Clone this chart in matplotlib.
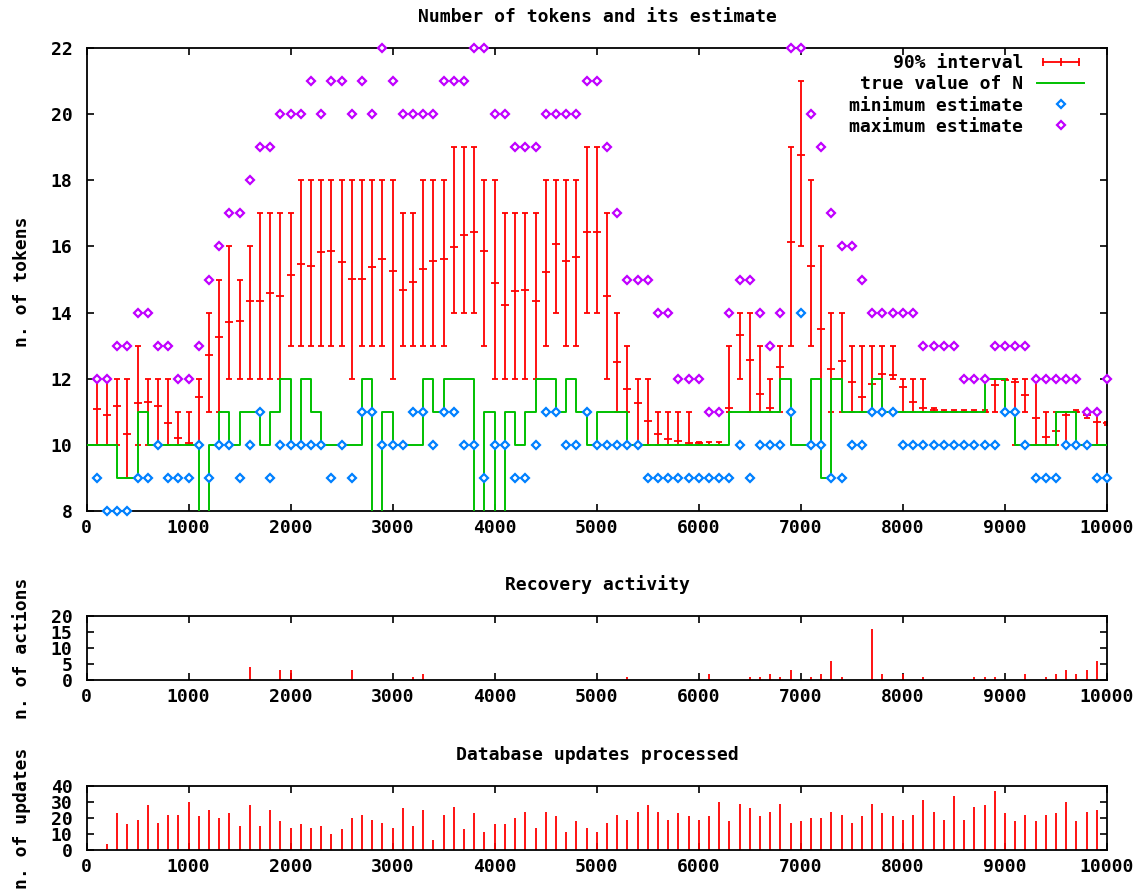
import matplotlib
matplotlib.use('Agg')
import matplotlib.pyplot as plt
from matplotlib.lines import Line2D
from matplotlib.legend_handler import HandlerLine2D

plt.rcParams['font.family'] = ['DejaVu Sans Mono']
plt.rcParams['font.weight'] = 'bold'
plt.rcParams['font.size'] = 13

RED = '#ff0000'
GREEN = '#00c000'
BLUE = '#0080ff'
MAGENTA = '#c000ff'

# sample times of the estimator
t = list(range(100, 10001, 100))

iv_lo = [10, 10, 10, 9, 10, 10, 10, 10, 10, 10,
         10, 11, 11, 12, 12, 12, 12, 12, 12, 13,
         13, 13, 13, 13, 13, 12, 13, 13, 13, 12,
         13, 13, 13, 13, 13, 14, 14, 14, 13, 12,
         12, 12, 12, 12, 13, 14, 13, 13, 14, 14,
         12, 11, 11, 10, 10, 10, 10, 10, 10, 10,
         10, 10, 11, 12, 11, 11, 11, 11, 13, 16,
         13, 10, 11, 11, 11, 11, 11, 11, 12, 11,
         11, 11, 11, 11, 11, 11, 11, 11, 11, 11,
         10, 11, 10, 10, 10, 10, 11, 10.8, 10, 10.6]
iv_med = [11.07, 10.9, 11.16, 10.32, 11.26, 11.31, 11.16, 10.67, 10.22, 10.07,
          11.45, 12.73, 13.27, 13.71, 13.76, 14.35, 14.35, 14.6, 14.5, 15.13,
          15.47, 15.42, 15.82, 15.87, 15.52, 15.03, 15.03, 15.37, 15.61, 15.27,
          14.69, 14.93, 15.32, 15.57, 15.61, 15.97, 16.36, 16.45, 15.87, 14.88,
          14.24, 14.64, 14.69, 14.35, 15.22, 16.06, 15.57, 15.67, 16.45, 16.45,
          14.49, 12.52, 11.7, 11.26, 10.72, 10.32, 10.17, 10.12, 10.07, 10.07,
          10.0, 10.0, 11.1, 13.32, 12.58, 11.55, 11.1, 12.34, 16.12, 18.76,
          15.42, 13.51, 12.29, 12.53, 11.9, 11.45, 11.85, 12.15, 12.1, 11.75,
          11.31, 11.1, 11.05, 11.0, 11.0, 11.0, 11.0, 11.0, 11.8, 11.95,
          11.9, 11.5, 10.8, 10.25, 10.41, 10.9, 11.0, 10.9, 10.7, 10.65]
iv_hi = [12, 12, 12, 12, 13, 12, 12, 12, 11, 11,
         12, 14, 15, 16, 15, 16, 17, 17, 17, 17,
         18, 18, 18, 18, 18, 18, 18, 18, 18, 18,
         17, 17, 18, 18, 18, 19, 19, 19, 18, 18,
         17, 17, 17, 17, 18, 18, 18, 18, 19, 19,
         17, 14, 13, 12, 12, 11, 11, 11, 11, 10.1,
         10.1, 10.1, 13, 14, 14, 13, 12, 13, 19, 21,
         18, 16, 14, 14, 13, 13, 13, 13, 13, 12,
         12, 12, 11.1, 11.05, 11.05, 11.05, 11.05, 11.05, 12, 12,
         12, 12, 12, 11, 11, 11, 11.05, 11, 11, 10.7]
est_min = [9, 8, 8, 8, 9, 9, 10, 9, 9, 9,
           10, 9, 10, 10, 9, 10, 11, 9, 10, 10,
           10, 10, 10, 9, 10, 9, 11, 11, 10, 10,
           10, 11, 11, 10, 11, 11, 10, 10, 9, 10,
           10, 9, 9, 10, 11, 11, 10, 10, 11, 10,
           10, 10, 10, 10, 9, 9, 9, 9, 9, 9,
           9, 9, 9, 10, 9, 10, 10, 10, 11, 14,
           10, 10, 9, 9, 10, 10, 11, 11, 11, 10,
           10, 10, 10, 10, 10, 10, 10, 10, 10, 11,
           11, 10, 9, 9, 9, 10, 10, 10, 9, 9]
est_max = [12, 12, 13, 13, 14, 14, 13, 13, 12, 12,
           13, 15, 16, 17, 17, 18, 19, 19, 20, 20,
           20, 21, 20, 21, 21, 20, 21, 20, 22, 21,
           20, 20, 20, 20, 21, 21, 21, 22, 22, 20,
           20, 19, 19, 19, 20, 20, 20, 20, 21, 21,
           19, 17, 15, 15, 15, 14, 14, 12, 12, 12,
           11, 11, 14, 15, 15, 14, 13, 14, 22, 22,
           20, 19, 17, 16, 16, 15, 14, 14, 14, 14,
           14, 13, 13, 13, 13, 12, 12, 12, 13, 13,
           13, 13, 12, 12, 12, 12, 12, 11, 11, 12]

# true N (step), starting at t=0
n_t = [0] + t
n_true = [10,
          10, 10, 9, 9, 11, 10, 10, 10, 10, 10,
          7, 10, 11, 10, 11, 11, 10, 11, 12, 10,
          12, 11, 10, 10, 10, 10, 12, 7, 11, 10,
          10, 10, 12, 11, 12, 12, 12, 7, 11, 7,
          11, 10, 11, 12, 12, 11, 12, 11, 10, 11,
          11, 11, 10, 10, 10, 10, 10, 10, 10, 10,
          10, 10, 11, 11, 11, 11, 11, 12, 10, 10,
          12, 9, 12, 11, 11, 11, 12, 11, 11, 11,
          11, 11, 11, 11, 11, 11, 11, 12, 12, 11,
          10, 10, 10, 10, 11, 11, 10, 10, 10, 10]

# recovery actions
rec_t = [1600, 1900, 2000, 2600, 3200, 3300, 5300, 6100, 6500, 6600, 6700, 6800,
         6900, 7100, 7200, 7300, 7400, 7700, 7800, 8000, 8200, 8700, 8800, 8900,
         9200, 9400, 9500, 9600, 9700, 9800, 9900]
rec_n = [4, 3, 3, 3, 1, 2, 1, 2, 1, 1, 2, 1,
         3, 1, 2, 6, 1, 16, 2, 2, 1, 1, 1, 1,
         2, 1, 2, 3, 2, 3, 6]

# database updates
upd_t = list(range(200, 10000, 100))
upd_n = [4, 23, 16, 19, 28, 17, 22, 22, 30,
         21, 25, 20, 23, 15, 28, 15, 25, 18, 14,
         16, 14, 15, 10, 13, 20, 22, 19, 17, 14,
         26, 15, 25, 6, 22, 27, 13, 23, 11, 16,
         16, 20, 24, 14, 24, 21, 11, 18, 14, 11,
         17, 22, 19, 24, 28, 24, 19, 23, 21, 19,
         21, 30, 18, 29, 26, 21, 24, 29, 17, 18,
         20, 20, 24, 22, 17, 21, 29, 23, 21, 19,
         22, 31, 24, 19, 34, 19, 27, 28, 37, 23,
         18, 22, 18, 22, 23, 30, 18, 24, 25]

W, H = 1142, 894
fig = plt.figure(figsize=(W / 100, H / 100), dpi=100)


def box(l, top, r, b):
    return [l / W, 1 - b / H, (r - l) / W, (b - top) / H]


ax1 = fig.add_axes(box(86.5, 48, 1107, 511))
ax2 = fig.add_axes(box(86.5, 616, 1107, 680))
ax3 = fig.add_axes(box(86.5, 786, 1107, 850))

# main panel
yerr = [[m - lo for m, lo in zip(iv_med, iv_lo)],
        [hi - m for m, hi in zip(iv_med, iv_hi)]]
ax1.errorbar(t, iv_med, yerr=yerr, fmt='_', color=RED, ms=6, mew=1.3,
             elinewidth=1.3, capsize=2.2, capthick=1.3, zorder=2)
ax1.step(n_t, n_true, where='post', color=GREEN, lw=1.4, zorder=3)
ax1.plot(t, est_min, ls='none', marker='D', ms=4.5, mfc='white', mec=BLUE,
         mew=1.6, clip_on=False, zorder=4)
ax1.plot(t, est_max, ls='none', marker='D', ms=4.5, mfc='white', mec=MAGENTA,
         mew=1.6, clip_on=False, zorder=5)
ax1.set_xlim(0, 10000)
ax1.set_ylim(8, 22)
ax1.set_yticks(range(8, 23, 2))

h_err = Line2D([], [], color=RED, lw=1.3, marker='|', ms=6, mew=1.3)
h_n = Line2D([], [], color=GREEN, lw=1.4)
h_min = Line2D([], [], ls='none', marker='D', ms=4.5, mfc='white', mec=BLUE, mew=1.6)
h_max = Line2D([], [], ls='none', marker='D', ms=4.5, mfc='white', mec=MAGENTA, mew=1.6)
ax1.legend([h_err, h_n, h_min, h_max],
           ['90% interval', 'true value of N', 'minimum estimate', 'maximum estimate'],
           loc='upper right', bbox_to_anchor=(0.9775, 0.987), frameon=False,
           markerfirst=False, borderaxespad=0, borderpad=0, labelspacing=0.18,
           handlelength=2.6, handletextpad=0.78,
           handler_map={h_err: HandlerLine2D(numpoints=3),
                        h_min: HandlerLine2D(numpoints=1),
                        h_max: HandlerLine2D(numpoints=1)})

# recovery activity
ax2.vlines(rec_t, 0, rec_n, color=RED, lw=1.3)
ax2.set_xlim(0, 10000)
ax2.set_ylim(0, 20)
ax2.set_yticks(range(0, 21, 5))

# database updates
ax3.vlines(upd_t, 0, upd_n, color=RED, lw=1.3)
ax3.set_xlim(0, 10000)
ax3.set_ylim(0, 40)
ax3.set_yticks(range(0, 41, 10))

for ax in (ax1, ax2, ax3):
    ax.set_xticks(range(0, 10001, 1000))
    ax.tick_params(direction='in', length=5, width=1.2, top=True, right=True,
                   labelsize=13)
    ax.tick_params(axis='x', pad=6)
    ax.tick_params(axis='y', pad=10)
    for s in ax.spines.values():
        s.set_linewidth(1.3)

fig.text(597 / W, 1 - 17 / H, 'Number of tokens and its estimate', ha='center', va='center')
fig.text(597 / W, 1 - 585 / H, 'Recovery activity', ha='center', va='center')
fig.text(597 / W, 1 - 755 / H, 'Database updates processed', ha='center', va='center')
fig.text(22 / W, 1 - 282 / H, 'n. of tokens', rotation=90, ha='center', va='center')
fig.text(22 / W, 1 - 648 / H, 'n. of actions', rotation=90, ha='center', va='center')
fig.text(22 / W, 1 - 818 / H, 'n. of updates', rotation=90, ha='center', va='center')

fig.savefig('out.png', dpi=100)
